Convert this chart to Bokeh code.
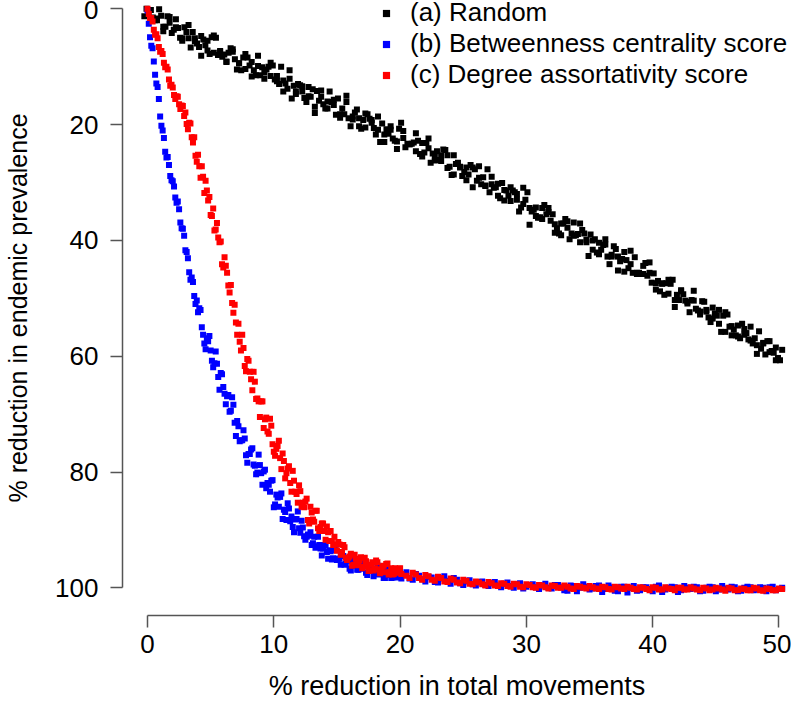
from bokeh.plotting import figure
from bokeh.models import (Range1d, FixedTicker, Legend, LegendItem, ColumnDataSource)
from bokeh.transform import dodge
from bokeh.embed import file_html
from bokeh.resources import INLINE

# ---------------- data ----------------
x_ticks = [0, 10, 20, 30, 40, 50]
y_ticks = [0, 20, 40, 60, 80, 100]
series_names = ["(a) Random", "(b) Betweenness centrality score",
                "(c) Degree assortativity score"]
x_title = "% reduction in total movements"
y_title = "% reduction in endemic prevalence"

x_black = [0, 0.5, 1, 1.5, 2, 2.5, 3, 3.5, 4, 4.5, 5, 5.5, 6, 6.5, 7, 7.5, 8, 8.5, 9, 9.5,
           10, 10.5, 11, 11.5, 12, 12.5, 13, 13.5, 14, 14.5, 15, 15.5, 16, 16.5, 17, 17.5,
           18, 18.5, 19, 19.5, 20, 20.5, 21, 21.5, 22, 22.5, 23, 23.5, 24, 24.5, 25, 25.5,
           26, 26.5, 27, 27.5, 28, 28.5, 29, 29.5, 30, 30.5, 31, 31.5, 32, 32.5, 33, 33.5,
           34, 34.5, 35, 35.5, 36, 36.5, 37, 37.5, 38, 38.5, 39, 39.5, 40, 40.5, 41, 41.5,
           42, 42.5, 43, 43.5, 44, 44.5, 45, 45.5, 46, 46.5, 47, 47.5, 48, 48.5, 49, 49.5, 50]
random_a = [1.3, 0.2, 2.0, 3.9, 2.4, 1.8, 5.1, 5.1, 5.1, 8.1,
            5.5, 7.6, 7.3, 9.2, 7.0, 9.4, 10.4, 9.2, 8.1, 12.1,
            11.6, 11.6, 14.3, 12.1, 14.3, 14.3, 13.5, 18.0, 15.2, 17.2,
            16.6, 18.8, 16.1, 19.1, 18.9, 20.5, 19.2, 20.9, 23.0, 20.3,
            22.9, 22.3, 23.4, 21.5, 25.5, 24.1, 26.2, 26.3, 25.3, 28.6,
            27.3, 27.4, 30.8, 29.2, 30.5, 29.0, 32.3, 31.3, 33.2, 32.0,
            33.7, 37.3, 34.3, 36.3, 35.1, 37.2, 39.1, 37.8, 36.9, 40.3,
            40.3, 40.0, 42.4, 40.7, 42.8, 42.8, 45.4, 41.8, 45.8, 45.8,
            45.6, 48.5, 47.4, 49.2, 51.5, 48.6, 50.9, 50.4, 52.8, 52.3,
            53.5, 52.0, 55.8, 54.8, 56.6, 55.3, 57.3, 59.6, 57.7, 59.3,
            58.5]
random_b = [0.0, 1.5, 0.1, 3.1, 4.2, 3.3, 3.2, 6.7, 6.0, 5.3,
            7.8, 5.0, 8.3, 7.6, 8.7, 10.6, 8.4, 10.6, 11.5, 10.5,
            9.8, 13.0, 12.9, 15.5, 13.0, 15.4, 15.2, 14.2, 16.5, 14.3,
            18.3, 17.2, 18.9, 17.9, 20.7, 18.2, 20.6, 23.0, 20.8, 22.4,
            20.7, 23.9, 23.3, 22.8, 24.8, 26.6, 24.6, 24.3, 27.3, 26.8,
            28.9, 28.6, 27.7, 30.3, 27.7, 30.9, 32.7, 31.4, 31.4, 35.0,
            33.0, 35.0, 36.1, 33.9, 36.6, 37.9, 37.1, 39.8, 39.1, 38.2,
            42.7, 39.8, 41.6, 42.8, 41.0, 43.6, 43.4, 45.6, 45.6, 43.9,
            47.3, 47.0, 49.4, 47.5, 49.4, 49.3, 52.4, 51.8, 50.5, 53.3,
            52.6, 55.8, 52.8, 55.4, 56.9, 56.0, 57.8, 55.7, 59.7, 59.1,
            60.3]
random_c = [0.7, 2.0, 1.2, 1.3, 3.6, 5.0, 4.0, 4.0, 6.6, 6.3,
            4.9, 8.0, 7.9, 6.8, 10.5, 8.4, 9.8, 11.5, 10.1, 10.0,
            12.2, 10.0, 13.8, 13.3, 13.2, 16.1, 13.9, 15.9, 17.2, 16.1,
            15.5, 18.2, 20.3, 17.4, 19.2, 19.0, 21.7, 19.8, 21.6, 22.8,
            19.7, 23.3, 23.1, 25.1, 23.2, 25.0, 26.1, 24.4, 28.7, 26.6,
            28.2, 27.0, 29.7, 29.1, 31.7, 30.8, 30.1, 32.3, 31.7, 34.3,
            31.7, 34.7, 36.0, 35.5, 35.5, 38.8, 36.3, 38.8, 38.9, 38.8,
            39.0, 42.1, 40.8, 44.1, 41.5, 43.2, 44.8, 42.9, 45.8, 46.1,
            45.7, 48.8, 47.4, 46.8, 50.3, 50.4, 50.3, 52.1, 50.6, 54.1,
            53.0, 53.0, 54.9, 56.4, 54.4, 57.1, 56.9, 58.7, 57.4, 59.4,
            60.7]
random_d = [0.2, 1.7, 3.1, 1.4, 3.2, 5.5, 2.8, 5.6, 4.7, 7.2,
            4.6, 7.4, 9.1, 7.4, 9.4, 7.8, 11.7, 9.9, 11.0, 9.3,
            12.5, 12.4, 10.6, 14.7, 13.4, 15.1, 16.9, 14.1, 16.0, 15.7,
            18.2, 15.0, 18.6, 20.3, 18.1, 19.7, 18.6, 21.7, 20.9, 24.2,
            21.1, 23.4, 24.6, 23.2, 22.4, 25.6, 25.3, 27.5, 25.3, 27.4,
            29.6, 27.4, 27.2, 30.6, 30.3, 30.2, 33.1, 30.8, 33.0, 30.9,
            34.4, 35.8, 34.4, 34.4, 38.7, 37.1, 36.7, 39.2, 37.1, 39.9,
            41.6, 40.4, 39.8, 42.5, 45.2, 42.0, 44.1, 45.6, 44.4, 43.8,
            47.4, 47.5, 46.8, 50.3, 48.8, 50.6, 48.7, 52.3, 52.0, 51.6,
            54.4, 52.4, 56.4, 54.7, 56.3, 54.9, 58.1, 57.8, 57.4, 60.7,
            58.9]

x_fast = [0, 0.2, 0.4, 0.6, 0.8, 1, 1.2, 1.4, 1.6, 1.8, 2, 2.2, 2.4, 2.6, 2.8, 3, 3.2, 3.4,
          3.6, 3.8, 4, 4.2, 4.4, 4.6, 4.8, 5, 5.2, 5.4, 5.6, 5.8, 6, 6.2, 6.4, 6.6, 6.8, 7,
          7.2, 7.4, 7.6, 7.8, 8, 8.2, 8.4, 8.6, 8.8, 9, 9.2, 9.4, 9.6, 9.8, 10, 10.2, 10.4,
          10.6, 10.8, 11, 11.2, 11.4, 11.6, 11.8, 12, 12.2, 12.4, 12.6, 12.8, 13, 13.2, 13.4,
          13.6, 13.8, 14, 14.2, 14.4, 14.6, 14.8, 15, 15.2, 15.4, 15.6, 15.8, 16, 16.2, 16.4,
          16.6, 16.8, 17, 17.2, 17.4, 17.6, 17.8, 18, 18.2, 18.4, 18.6, 18.8, 19, 19.2, 19.4,
          19.6, 19.8, 20]
x_tail = [20.5, 21, 21.5, 22, 22.5, 23, 23.5, 24, 24.5, 25, 25.5, 26, 26.5, 27, 27.5, 28,
          28.5, 29, 29.5, 30, 30.5, 31, 31.5, 32, 32.5, 33, 33.5, 34, 34.5, 35, 35.5, 36,
          36.5, 37, 37.5, 38, 38.5, 39, 39.5, 40, 40.5, 41, 41.5, 42, 42.5, 43, 43.5, 44,
          44.5, 45, 45.5, 46, 46.5, 47, 47.5, 48, 48.5, 49, 49.5, 50]

betw_fast_a = [0.3, 4.9, 6.8, 11.4, 13.5, 18.6, 21.0, 24.7, 25.6, 28.9,
               29.8, 32.6, 33.3, 36.9, 38.0, 41.7, 43.1, 46.8, 47.2, 51.0,
               52.4, 52.0, 56.3, 58.8, 57.4, 59.0, 61.9, 59.2, 63.6, 62.9,
               65.3, 68.3, 66.7, 69.4, 68.4, 73.8, 72.1, 74.5, 72.8, 77.1,
               76.9, 76.1, 78.7, 80.4, 77.0, 80.2, 79.9, 82.8, 82.2, 81.5,
               86.1, 83.9, 86.0, 83.7, 86.5, 88.3, 86.3, 87.7, 90.4, 88.1,
               89.7, 88.4, 91.1, 91.2, 91.0, 92.6, 91.2, 92.8, 92.6, 94.4,
               92.6, 93.8, 93.5, 95.1, 93.4, 95.2, 95.0, 93.8, 96.0, 95.3,
               96.7, 95.3, 96.2, 96.9, 95.4, 96.7, 96.1, 97.8, 96.2, 97.0,
               97.6, 96.1, 97.6, 97.0, 98.3, 96.9, 97.8, 98.2, 96.9, 98.1,
               97.7]
betw_fast_b = [2.6, 6.4, 9.1, 12.9, 15.6, 20.2, 22.3, 25.7, 27.0, 29.6,
               30.7, 33.5, 34.6, 37.9, 39.2, 42.0, 45.5, 46.4, 49.6, 50.4,
               51.7, 55.0, 57.8, 56.9, 56.5, 60.8, 61.2, 61.3, 65.8, 63.1,
               66.5, 66.9, 69.6, 67.1, 71.5, 71.2, 74.7, 74.5, 74.2, 78.4,
               76.9, 75.9, 78.9, 80.1, 78.8, 82.2, 79.6, 81.9, 83.4, 81.4,
               85.6, 84.4, 84.3, 88.1, 86.9, 85.4, 88.5, 89.5, 88.2, 86.8,
               90.5, 89.6, 91.7, 90.8, 90.4, 92.3, 93.1, 91.2, 93.2, 93.2,
               92.7, 95.0, 93.7, 94.9, 93.5, 95.0, 96.0, 94.5, 95.8, 95.3,
               97.0, 95.0, 96.2, 96.9, 95.9, 95.3, 97.4, 97.0, 96.3, 98.0,
               96.9, 97.7, 96.3, 98.3, 97.1, 97.8, 98.3, 96.8, 98.2, 97.6,
               98.4]
betw_tail_a = [97.3, 98.6, 97.9, 98.9, 98.2, 99.1, 98.0, 99.3, 98.6, 99.5,
               98.7, 99.6, 98.9, 99.7, 99.0, 99.9, 99.1, 100.0, 99.2, 99.8,
               99.4, 100.2, 99.3, 100.1, 99.5, 100.4, 99.6, 100.6, 99.4, 100.3,
               99.7, 100.7, 99.6, 100.5, 99.8, 100.8, 99.7, 100.4, 99.9, 100.6,
               99.6, 100.3, 99.8, 100.7, 99.7, 100.2, 99.9, 100.5, 99.8, 100.6,
               99.7, 100.3, 99.9, 100.5, 99.8, 100.4, 99.9, 100.6, 99.8, 100.2]
betw_tail_b = [98.4, 97.6, 98.5, 98.1, 99.0, 98.4, 98.8, 98.3, 99.2, 98.9,
               99.4, 99.0, 99.5, 99.2, 99.6, 99.3, 99.7, 99.4, 100.1, 99.5,
               99.9, 99.6, 100.0, 99.5, 99.9, 100.5, 99.7, 100.0, 99.8, 100.1,
               99.6, 100.2, 99.9, 100.6, 99.8, 100.0, 100.5, 99.9, 100.2, 99.8,
               100.7, 100.0, 99.9, 100.4, 100.0, 99.8, 100.6, 100.0, 99.9, 100.3,
               100.1, 99.8, 100.6, 100.0, 99.9, 100.3, 100.0, 99.9, 100.4, 100.0]

assort_fast_a = [0.0, 1.6, 2.2, 4.5, 5.1, 7.4, 7.8, 10.1, 10.5, 13.3,
                 13.6, 15.6, 15.2, 17.3, 16.8, 17.9, 20.8, 19.8, 23.1, 25.4,
                 25.2, 29.2, 29.0, 29.7, 33.1, 35.6, 34.5, 38.1, 39.5, 40.2,
                 44.7, 44.4, 47.8, 47.7, 52.5, 54.2, 54.4, 59.0, 58.6, 62.6,
                 60.8, 64.0, 62.7, 67.4, 67.8, 67.8, 72.4, 70.6, 73.4, 72.0,
                 76.5, 76.0, 74.6, 79.5, 78.1, 80.2, 79.0, 83.4, 81.5, 83.8,
                 82.3, 86.0, 86.1, 84.6, 88.9, 87.0, 88.6, 86.7, 90.2, 88.9,
                 90.2, 89.4, 91.9, 91.9, 91.2, 93.6, 92.5, 93.8, 93.0, 95.2,
                 94.6, 96.2, 94.3, 95.9, 95.2, 96.6, 94.8, 96.2, 97.0, 95.6,
                 96.6, 95.6, 97.5, 96.3, 97.3, 95.8, 97.3, 97.7, 96.6, 97.4,
                 96.6]
assort_fast_b = [0.9, 1.6, 3.6, 4.4, 6.6, 7.3, 9.3, 10.0, 12.2, 13.1,
                 14.9, 15.1, 16.5, 16.7, 18.5, 19.9, 19.7, 22.2, 22.2, 26.4,
                 27.2, 27.2, 31.8, 31.4, 32.5, 35.8, 38.3, 37.0, 40.3, 44.1,
                 42.9, 45.6, 49.0, 50.8, 51.1, 56.3, 57.5, 56.3, 61.7, 60.5,
                 62.7, 65.9, 64.4, 67.3, 70.5, 67.8, 70.9, 73.0, 70.8, 75.2,
                 77.2, 75.5, 77.6, 76.8, 81.1, 79.4, 81.9, 79.8, 83.4, 85.3,
                 83.3, 85.3, 85.1, 88.3, 86.0, 88.2, 86.7, 89.7, 89.5, 88.9,
                 91.7, 90.4, 90.2, 92.6, 92.5, 92.1, 94.3, 92.6, 94.8, 94.8,
                 94.1, 96.0, 95.0, 96.1, 94.7, 96.3, 95.4, 97.1, 96.0, 97.0,
                 95.3, 96.8, 97.2, 96.2, 95.9, 97.7, 96.6, 97.6, 97.3, 96.7,
                 97.6]
assort_tail_a = [97.9, 97.4, 98.3, 97.8, 98.6, 98.1, 98.9, 98.4, 99.1, 98.6,
                 99.3, 98.9, 99.4, 99.0, 99.6, 99.2, 99.7, 99.3, 99.8, 99.4,
                 99.9, 99.5, 99.9, 99.6, 100.0, 99.6, 100.1, 99.7, 100.0, 99.7,
                 100.1, 99.8, 100.2, 99.8, 100.1, 99.8, 100.2, 99.9, 100.2, 99.9,
                 100.3, 99.9, 100.2, 100.0, 100.3, 99.9, 100.3, 100.0, 100.4, 100.0,
                 100.3, 100.0, 100.4, 100.1, 100.4, 100.0, 100.4, 100.1, 100.4, 100.1]
assort_tail_b = [98.3, 97.7, 98.6, 98.0, 98.8, 98.3, 99.0, 98.6, 99.2, 98.8,
                 99.4, 99.1, 99.6, 99.2, 99.7, 99.3, 99.8, 99.4, 99.9, 99.5,
                 100.0, 99.6, 100.1, 99.7, 100.0, 99.8, 100.2, 99.8, 100.1, 99.9,
                 100.2, 99.9, 100.3, 99.9, 100.2, 100.0, 100.3, 100.0, 100.4, 100.0,
                 100.3, 100.1, 100.4, 100.0, 100.3, 100.1, 100.4, 100.1, 100.3, 100.1,
                 100.5, 100.1, 100.4, 100.2, 100.4, 100.1, 100.5, 100.2, 100.4, 100.2]

# ---------------- figure ----------------
FONT = "Liberation Sans"
AXIS_COL = "#555555"

p = figure(width=791, height=703, output_backend="svg", toolbar_location=None,
           x_range=Range1d(-1.98, 50.99), y_range=Range1d(104.78, -1.43),
           min_border_left=122, min_border_right=0, min_border_top=0,
           min_border_bottom=87)
p.outline_line_color = None
p.xgrid.visible = False
p.ygrid.visible = False
p.background_fill_color = "white"
p.border_fill_color = "white"

for ax in (p.xaxis[0], p.yaxis[0]):
    ax.axis_line_color = AXIS_COL
    ax.axis_line_width = 1.5
    ax.major_tick_line_color = AXIS_COL
    ax.major_tick_line_width = 1.5
    ax.major_tick_out = 12
    ax.major_tick_in = 0
    ax.minor_tick_out = 0
    ax.minor_tick_in = 0
    ax.major_label_text_font = FONT
    ax.major_label_text_font_size = "26px"
    ax.major_label_text_color = "black"
    ax.axis_label_text_font = FONT
    ax.axis_label_text_font_style = "normal"
    ax.axis_label_text_color = "black"
p.xaxis.bounds = (0, 50)
p.yaxis.bounds = (0, 100)
p.xaxis.ticker = FixedTicker(ticks=x_ticks)
p.yaxis.ticker = FixedTicker(ticks=y_ticks)
p.xaxis.major_label_standoff = 7
p.yaxis.major_label_standoff = 12
p.xaxis.axis_label = x_title
p.yaxis.axis_label = y_title
p.xaxis.axis_label_text_font_size = "27px"
p.yaxis.axis_label_text_font_size = "25px"
p.xaxis.axis_label_standoff = 15
p.yaxis.axis_label_standoff = 20

src_black = ColumnDataSource(dict(x=x_black, a=random_a, b=random_b, c=random_c, d=random_d))
src_fast = ColumnDataSource(dict(x=x_fast, ba=betw_fast_a, bb=betw_fast_b,
                                 ra=assort_fast_a, rb=assort_fast_b))
src_tail = ColumnDataSource(dict(x=x_tail, ba=betw_tail_a, bb=betw_tail_b,
                                 ra=assort_tail_a, rb=assort_tail_b))

common = dict(marker="square", size=6, line_color=None)
r_black = None
for col, off in (("a", -0.25), ("b", -0.08), ("c", 0.08), ("d", 0.25)):
    r = p.scatter(x=dodge("x", off), y=col, source=src_black, fill_color="black", **common)
    if r_black is None:
        r_black = r

r_blue = None
for src, col, off in ((src_fast, "ba", 0.0), (src_fast, "bb", 0.1),
                      (src_tail, "ba", 0.0), (src_tail, "bb", 0.25)):
    r = p.scatter(x=dodge("x", off), y=col, source=src, fill_color="#0000FF", **common)
    if r_blue is None:
        r_blue = r

r_red = None
for src, col, off in ((src_fast, "ra", 0.0), (src_fast, "rb", 0.1),
                      (src_tail, "ra", 0.0), (src_tail, "rb", 0.25)):
    r = p.scatter(x=dodge("x", off), y=col, source=src, fill_color="#FF0000", **common)
    if r_red is None:
        r_red = r

legend = Legend(items=[LegendItem(label=series_names[0], renderers=[r_black]),
                       LegendItem(label=series_names[1], renderers=[r_blue]),
                       LegendItem(label=series_names[2], renderers=[r_red])],
                location=(255, 525))
legend.border_line_color = None
legend.background_fill_alpha = 0
legend.padding = 0
legend.margin = 0
legend.spacing = 0
legend.glyph_width = 18
legend.glyph_height = 24
legend.label_standoff = 15
legend.label_text_font = FONT
legend.label_text_font_size = "26px"
legend.label_text_color = "black"
p.add_layout(legend)

open("out.html", "w").write(file_html(p, INLINE))
